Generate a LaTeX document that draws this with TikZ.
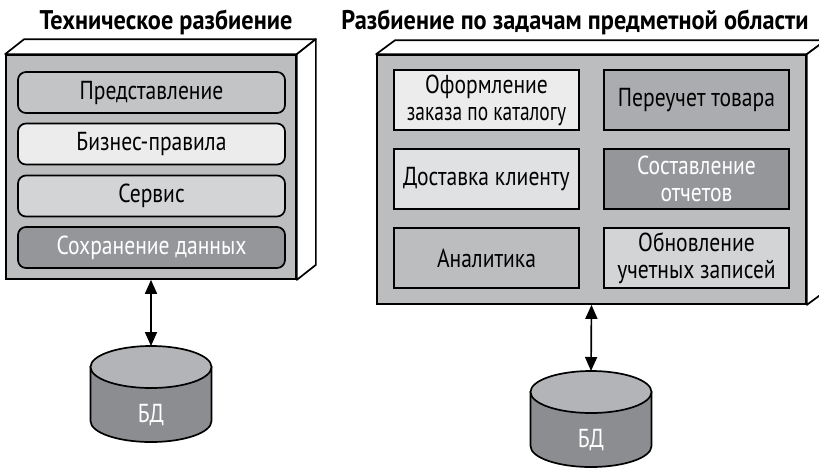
\documentclass[tikz,border=0pt]{standalone}
\usepackage{graphicx}
\usepackage{fontspec}
\setmainfont[FakeStretch=0.83]{PT Sans}
\newfontfamily\titlefont[FakeStretch=0.9]{PT Sans}
\usetikzlibrary{arrows.meta}

\definecolor{boxgray}{HTML}{BCBDBF}
\definecolor{lightest}{HTML}{ECECED}
\definecolor{light}{HTML}{E0E1E2}
\definecolor{midlight}{HTML}{D3D4D6}
\definecolor{mid}{HTML}{ABACAF}
\definecolor{dark}{HTML}{95969A}
\definecolor{dbtop}{HTML}{B3B4B7}
\definecolor{dbbody}{HTML}{8C8D90}

\begin{document}
\begin{tikzpicture}[x=1pt, y=1pt,
	title/.style={anchor=base, font=\titlefont\fontsize{27}{30}\selectfont\bfseries},
	frame/.style={draw, line width=1.7pt, fill=boxgray, inner sep=0pt},
	face/.style={draw, line width=1.7pt, fill=white, line join=round},
	layer/.style={draw, line width=1.7pt, rounded corners=8pt, minimum width=267, minimum height=41, inner sep=0pt, font=\fontsize{26}{27}\selectfont},
	task/.style={draw, line width=1.7pt, minimum width=185, minimum height=60, inner sep=0pt, align=center, font=\fontsize{26}{27}\selectfont},
	dbtext/.style={text=white, font=\fontsize{26}{27}\selectfont},
	link/.style={line width=1.7pt, {Triangle[width=12pt,length=14pt]}-{Triangle[width=12pt,length=14pt]}}]
	\useasboundingbox[clip] (0,0) rectangle (819,-467);

	% titles
	\node[title] at (166, -29) (t1) {Техническое разбиение};
	\node[title] at (575, -29) (t2) {Разбиение по задачам предметной области};

	% technical partitioning
	\node[frame, minimum width=290, minimum height=224] at (151, -167) (tech) {};
	\path[face] (tech.north west) -- ++(19,15) -- ([shift={(19,15)}]tech.north east) -- (tech.north east) -- cycle;
	\path[face] (tech.north east) -- ++(19,15) -- ([shift={(19,15)}]tech.south east) -- (tech.south east) -- cycle;

	\node[layer, fill=boxgray!90!white] at (151.5, -92.5) (pres) {Представление};
	\node[layer, fill=lightest] at (151.5, -144) (rules) {Бизнес-правила};
	\node[layer, fill=midlight] at (151.5, -196) (serv) {Сервис};
	\node[layer, fill=dark, text=white] at (151.5, -247.5) (pers) {Сохранение данных};

	% domain partitioning
	\node[frame, minimum width=429, minimum height=249] at (591.5, -179.5) (domain) {};
	\path[face] (domain.north west) -- ++(19,14) -- ([shift={(19,14)}]domain.north east) -- (domain.north east) -- cycle;
	\path[face] (domain.north east) -- ++(19,14) -- ([shift={(19,14)}]domain.south east) -- (domain.south east) -- cycle;

	\node[task, fill=lightest] at (486.5, -100) (order) {Оформление\\\scalebox{0.9}[1]{заказа по каталогу}};
	\node[task, fill=mid] at (696.5, -100) (stock) {Переучет товара};
	\node[task, fill=light] at (486.5, -179) (deliv) {Доставка клиенту};
	\node[task, fill=dark, text=white] at (696.5, -179) (report) {Составление\\отчетов};
	\node[task, fill=boxgray] at (486.5, -258) (analyt) {Аналитика};
	\node[task, fill=midlight] at (696.5, -258) (accts) {Обновление\\учетных записей};

	% databases
	\path[draw, line width=1.7pt, fill=dbbody] (90.5,-367) -- (90.5,-421) arc[start angle=180, end angle=360, x radius=60.5, y radius=21] -- (211.5,-367) -- cycle;
	\path[draw, line width=1.7pt, fill=dbtop] (151,-367) ellipse[x radius=60.5, y radius=21];
	\coordinate (db1) at (151,-346);
	\node[dbtext] at (151,-415) (db1label) {БД};

	\path[draw, line width=1.7pt, fill=dbbody] (530.5,-392) -- (530.5,-446) arc[start angle=180, end angle=360, x radius=60.5, y radius=21] -- (651.5,-392) -- cycle;
	\path[draw, line width=1.7pt, fill=dbtop] (591,-392) ellipse[x radius=60.5, y radius=21];
	\coordinate (db2) at (591,-371);
	\node[dbtext] at (591,-440) (db2label) {БД};

	\draw[link] (tech.south) -- (db1);
	\draw[link] (domain.south) -- (db2);
\end{tikzpicture}
\end{document}
